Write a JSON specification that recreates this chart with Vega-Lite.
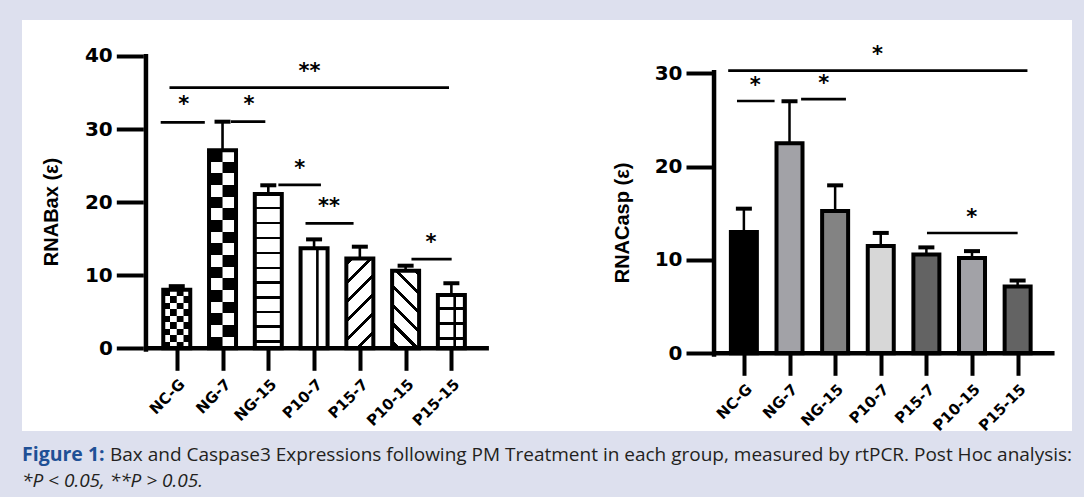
{
  "$schema": "https://vega.github.io/schema/vega-lite/v6.json",
  "background": "#dde0ee",
  "padding": {"left": 22, "top": 20, "right": 12, "bottom": 0},
  "autosize": {"type": "pad"},
  "spacing": 0,
  "config": {"view": {"stroke": null}},
  "datasets": {
    "bax": [
      {"group": "NC-G", "pos": 1, "value": 8.0, "upper": 8.5},
      {"group": "NG-7", "pos": 2, "value": 27.1, "upper": 31.0},
      {"group": "NG-15", "pos": 3, "value": 21.1, "upper": 22.3},
      {"group": "P10-7", "pos": 4, "value": 13.7, "upper": 14.9},
      {"group": "P15-7", "pos": 5, "value": 12.3, "upper": 13.9},
      {"group": "P10-15", "pos": 6, "value": 10.6, "upper": 11.3},
      {"group": "P15-15", "pos": 7, "value": 7.3, "upper": 8.9}
    ],
    "casp": [
      {"group": "NC-G", "pos": 1, "value": 13.0, "upper": 15.5},
      {"group": "NG-7", "pos": 2, "value": 22.5, "upper": 27.0},
      {"group": "NG-15", "pos": 3, "value": 15.25, "upper": 18.0},
      {"group": "P10-7", "pos": 4, "value": 11.5, "upper": 12.9},
      {"group": "P15-7", "pos": 5, "value": 10.6, "upper": 11.35},
      {"group": "P10-15", "pos": 6, "value": 10.2, "upper": 10.95},
      {"group": "P15-15", "pos": 7, "value": 7.15, "upper": 7.8}
    ],
    "baxSig": [
      {"from": 0.841, "to": 6.948, "level": 35.65, "stars": "**", "at": 3.9, "labelLevel": 38.6},
      {"from": 0.649, "to": 1.613, "level": 30.9, "stars": "*", "at": 1.15, "labelLevel": 34.0},
      {"from": 2.185, "to": 2.935, "level": 31.0, "stars": "*", "at": 2.577, "labelLevel": 34.0},
      {"from": 3.22, "to": 4.15, "level": 22.35, "stars": "*", "at": 3.685, "labelLevel": 25.3},
      {"from": 3.813, "to": 4.863, "level": 17.1, "stars": "**", "at": 4.328, "labelLevel": 20.05},
      {"from": 6.128, "to": 7.006, "level": 12.2, "stars": "*", "at": 6.556, "labelLevel": 15.2}
    ],
    "caspSig": [
      {"from": 0.656, "to": 7.215, "level": 30.29, "stars": "*", "at": 3.93, "labelLevel": 32.58},
      {"from": 0.849, "to": 1.673, "level": 27.04, "stars": "*", "at": 1.25, "labelLevel": 29.2},
      {"from": 2.254, "to": 3.237, "level": 27.25, "stars": "*", "at": 2.748, "labelLevel": 29.47},
      {"from": 5.013, "to": 7.0, "level": 12.89, "stars": "*", "at": 5.996, "labelLevel": 15.1}
    ],
    "caption": [
      {"line": 1, "part": "head", "text": "Figure 1:"},
      {"line": 1, "part": "body", "text": "Bax and Caspase3 Expressions following PM Treatment in each group, measured by rtPCR. Post Hoc analysis:"},
      {"line": 2, "part": "note", "text": "*P < 0.05, **P > 0.05."}
    ]
  },
  "vconcat": [
    {
      "hconcat": [
        {
          "width": 518,
          "height": 411,
          "view": {"fill": "white", "stroke": null},
          "layer": [
            {
              "data": {"name": "bax"},
              "transform": [{"filter": "datum.group === 'NC-G'"}],
              "mark": {"type": "bar", "size": 27, "fill": {"gradient": "linear", "x1": 0, "y1": 0, "x2": 0, "y2": 1, "stops": [
                {"offset": 0, "color": "black"}, {"offset": 0.1111, "color": "black"}, {"offset": 0.1111, "color": "white"}, {"offset": 0.2222, "color": "white"},
                {"offset": 0.2222, "color": "black"}, {"offset": 0.3333, "color": "black"}, {"offset": 0.3333, "color": "white"}, {"offset": 0.4444, "color": "white"},
                {"offset": 0.4444, "color": "black"}, {"offset": 0.5556, "color": "black"}, {"offset": 0.5556, "color": "white"}, {"offset": 0.6667, "color": "white"},
                {"offset": 0.6667, "color": "black"}, {"offset": 0.7778, "color": "black"}, {"offset": 0.7778, "color": "white"}, {"offset": 0.8889, "color": "white"},
                {"offset": 0.8889, "color": "black"}, {"offset": 1, "color": "black"}]}},
              "encoding": {
                "x": {"field": "pos", "type": "quantitative", "scale": {"domain": [-2.272, 8.827], "nice": false, "zero": false},
                  "axis": {"values": [1, 2, 3, 4, 5, 6, 7], "labelExpr": "['NC-G','NG-7','NG-15','P10-7','P15-7','P10-15','P15-15'][datum.value - 1]",
                    "labelAngle": -45, "labelAlign": "right", "labelBaseline": "top", "labelPadding": 6, "labelFont": "DejaVu Sans", "labelFontWeight": "bold",
                    "labelFontSize": 15, "labelColor": "black", "labelFlush": false, "labelOverlap": false, "labelBound": false, "domain": false, "grid": false,
                    "ticks": true, "tickSize": 22, "tickWidth": 4, "tickColor": "black", "offset": -82.7, "title": null, "zindex": 1}},
                "y": {"field": "value", "type": "quantitative", "scale": {"domain": [-11.313, 44.911], "nice": false, "zero": false},
                  "axis": {"values": [0, 10, 20, 30, 40], "format": "d", "labelFont": "DejaVu Sans", "labelFontWeight": "bold", "labelFontSize": 20,
                    "labelColor": "black", "labelPadding": 4, "labelFlush": false, "labelOverlap": false, "labelBound": false, "domain": false, "grid": false,
                    "ticks": true, "tickSize": 27, "tickWidth": 4, "tickColor": "black", "offset": -121.3, "title": "RNABax (ε)", "titleX": -91.6, "titleY": 191.5,
                    "titleAngle": -90, "titleAlign": "center", "titleBaseline": "middle", "titleFont": "Liberation Sans", "titleFontWeight": "bold",
                    "titleFontSize": 20, "titleColor": "black", "zindex": 1}},
                "y2": {"datum": 0}
              }
            },
            {
              "data": {"name": "bax"},
              "transform": [{"filter": "datum.group === 'NC-G'"}],
              "mark": {"type": "bar", "size": 6.75, "xOffset": -3.375, "fill": {"gradient": "linear", "x1": 0, "y1": 0, "x2": 0, "y2": 1, "stops": [
                {"offset": 0, "color": "white"}, {"offset": 0.1111, "color": "white"}, {"offset": 0.1111, "color": "black"}, {"offset": 0.2222, "color": "black"},
                {"offset": 0.2222, "color": "white"}, {"offset": 0.3333, "color": "white"}, {"offset": 0.3333, "color": "black"}, {"offset": 0.4444, "color": "black"},
                {"offset": 0.4444, "color": "white"}, {"offset": 0.5556, "color": "white"}, {"offset": 0.5556, "color": "black"}, {"offset": 0.6667, "color": "black"},
                {"offset": 0.6667, "color": "white"}, {"offset": 0.7778, "color": "white"}, {"offset": 0.7778, "color": "black"}, {"offset": 0.8889, "color": "black"},
                {"offset": 0.8889, "color": "white"}, {"offset": 1, "color": "white"}]}},
              "encoding": {
                "x": {"field": "pos", "type": "quantitative", "scale": {"domain": [-2.272, 8.827], "nice": false, "zero": false}},
                "y": {"field": "value", "type": "quantitative", "scale": {"domain": [-11.313, 44.911], "nice": false, "zero": false}},
                "y2": {"datum": 0}
              }
            },
            {
              "data": {"name": "bax"},
              "transform": [{"filter": "datum.group === 'NC-G'"}],
              "mark": {"type": "bar", "size": 6.75, "xOffset": 10.125, "fill": {"gradient": "linear", "x1": 0, "y1": 0, "x2": 0, "y2": 1, "stops": [
                {"offset": 0, "color": "white"}, {"offset": 0.1111, "color": "white"}, {"offset": 0.1111, "color": "black"}, {"offset": 0.2222, "color": "black"},
                {"offset": 0.2222, "color": "white"}, {"offset": 0.3333, "color": "white"}, {"offset": 0.3333, "color": "black"}, {"offset": 0.4444, "color": "black"},
                {"offset": 0.4444, "color": "white"}, {"offset": 0.5556, "color": "white"}, {"offset": 0.5556, "color": "black"}, {"offset": 0.6667, "color": "black"},
                {"offset": 0.6667, "color": "white"}, {"offset": 0.7778, "color": "white"}, {"offset": 0.7778, "color": "black"}, {"offset": 0.8889, "color": "black"},
                {"offset": 0.8889, "color": "white"}, {"offset": 1, "color": "white"}]}},
              "encoding": {
                "x": {"field": "pos", "type": "quantitative", "scale": {"domain": [-2.272, 8.827], "nice": false, "zero": false}},
                "y": {"field": "value", "type": "quantitative", "scale": {"domain": [-11.313, 44.911], "nice": false, "zero": false}},
                "y2": {"datum": 0}
              }
            },
            {
              "data": {"name": "bax"},
              "transform": [{"filter": "datum.group === 'NG-7'"}],
              "mark": {"type": "bar", "size": 27, "fill": {"gradient": "linear", "x1": 0, "y1": 0, "x2": 0, "y2": 1, "stops": [
                {"offset": 0, "color": "black"}, {"offset": 0.0588, "color": "black"}, {"offset": 0.0588, "color": "white"}, {"offset": 0.1176, "color": "white"},
                {"offset": 0.1176, "color": "black"}, {"offset": 0.1765, "color": "black"}, {"offset": 0.1765, "color": "white"}, {"offset": 0.2353, "color": "white"},
                {"offset": 0.2353, "color": "black"}, {"offset": 0.2941, "color": "black"}, {"offset": 0.2941, "color": "white"}, {"offset": 0.3529, "color": "white"},
                {"offset": 0.3529, "color": "black"}, {"offset": 0.4118, "color": "black"}, {"offset": 0.4118, "color": "white"}, {"offset": 0.4706, "color": "white"},
                {"offset": 0.4706, "color": "black"}, {"offset": 0.5294, "color": "black"}, {"offset": 0.5294, "color": "white"}, {"offset": 0.5882, "color": "white"},
                {"offset": 0.5882, "color": "black"}, {"offset": 0.6471, "color": "black"}, {"offset": 0.6471, "color": "white"}, {"offset": 0.7059, "color": "white"},
                {"offset": 0.7059, "color": "black"}, {"offset": 0.7647, "color": "black"}, {"offset": 0.7647, "color": "white"}, {"offset": 0.8235, "color": "white"},
                {"offset": 0.8235, "color": "black"}, {"offset": 0.8824, "color": "black"}, {"offset": 0.8824, "color": "white"}, {"offset": 0.9412, "color": "white"},
                {"offset": 0.9412, "color": "black"}, {"offset": 1, "color": "black"}]}},
              "encoding": {
                "x": {"field": "pos", "type": "quantitative", "scale": {"domain": [-2.272, 8.827], "nice": false, "zero": false}},
                "y": {"field": "value", "type": "quantitative", "scale": {"domain": [-11.313, 44.911], "nice": false, "zero": false}},
                "y2": {"datum": 0}
              }
            },
            {
              "data": {"name": "bax"},
              "transform": [{"filter": "datum.group === 'NG-7'"}],
              "mark": {"type": "bar", "size": 13.5, "xOffset": 6.75, "fill": {"gradient": "linear", "x1": 0, "y1": 0, "x2": 0, "y2": 1, "stops": [
                {"offset": 0, "color": "white"}, {"offset": 0.0588, "color": "white"}, {"offset": 0.0588, "color": "black"}, {"offset": 0.1176, "color": "black"},
                {"offset": 0.1176, "color": "white"}, {"offset": 0.1765, "color": "white"}, {"offset": 0.1765, "color": "black"}, {"offset": 0.2353, "color": "black"},
                {"offset": 0.2353, "color": "white"}, {"offset": 0.2941, "color": "white"}, {"offset": 0.2941, "color": "black"}, {"offset": 0.3529, "color": "black"},
                {"offset": 0.3529, "color": "white"}, {"offset": 0.4118, "color": "white"}, {"offset": 0.4118, "color": "black"}, {"offset": 0.4706, "color": "black"},
                {"offset": 0.4706, "color": "white"}, {"offset": 0.5294, "color": "white"}, {"offset": 0.5294, "color": "black"}, {"offset": 0.5882, "color": "black"},
                {"offset": 0.5882, "color": "white"}, {"offset": 0.6471, "color": "white"}, {"offset": 0.6471, "color": "black"}, {"offset": 0.7059, "color": "black"},
                {"offset": 0.7059, "color": "white"}, {"offset": 0.7647, "color": "white"}, {"offset": 0.7647, "color": "black"}, {"offset": 0.8235, "color": "black"},
                {"offset": 0.8235, "color": "white"}, {"offset": 0.8824, "color": "white"}, {"offset": 0.8824, "color": "black"}, {"offset": 0.9412, "color": "black"},
                {"offset": 0.9412, "color": "white"}, {"offset": 1, "color": "white"}]}},
              "encoding": {
                "x": {"field": "pos", "type": "quantitative", "scale": {"domain": [-2.272, 8.827], "nice": false, "zero": false}},
                "y": {"field": "value", "type": "quantitative", "scale": {"domain": [-11.313, 44.911], "nice": false, "zero": false}},
                "y2": {"datum": 0}
              }
            },
            {
              "data": {"name": "bax"},
              "transform": [{"filter": "datum.group === 'NG-15'"}],
              "mark": {"type": "bar", "size": 27, "fill": {"gradient": "linear", "x1": 0, "y1": 0, "x2": 0, "y2": 1, "stops": [
                {"offset": 0, "color": "white"}, {"offset": 0.0843, "color": "white"}, {"offset": 0.0843, "color": "black"}, {"offset": 0.0999, "color": "black"},
                {"offset": 0.0999, "color": "white"}, {"offset": 0.1816, "color": "white"}, {"offset": 0.1816, "color": "black"}, {"offset": 0.1972, "color": "black"},
                {"offset": 0.1972, "color": "white"}, {"offset": 0.2788, "color": "white"}, {"offset": 0.2788, "color": "black"}, {"offset": 0.2944, "color": "black"},
                {"offset": 0.2944, "color": "white"}, {"offset": 0.3761, "color": "white"}, {"offset": 0.3761, "color": "black"}, {"offset": 0.3917, "color": "black"},
                {"offset": 0.3917, "color": "white"}, {"offset": 0.4734, "color": "white"}, {"offset": 0.4734, "color": "black"}, {"offset": 0.489, "color": "black"},
                {"offset": 0.489, "color": "white"}, {"offset": 0.5668, "color": "white"}, {"offset": 0.5668, "color": "black"}, {"offset": 0.5824, "color": "black"},
                {"offset": 0.5824, "color": "white"}, {"offset": 0.6641, "color": "white"}, {"offset": 0.6641, "color": "black"}, {"offset": 0.6797, "color": "black"},
                {"offset": 0.6797, "color": "white"}, {"offset": 0.7587, "color": "white"}, {"offset": 0.7587, "color": "black"}, {"offset": 0.7743, "color": "black"},
                {"offset": 0.7743, "color": "white"}, {"offset": 0.8521, "color": "white"}, {"offset": 0.8521, "color": "black"}, {"offset": 0.8677, "color": "black"},
                {"offset": 0.8677, "color": "white"}, {"offset": 0.9494, "color": "white"}, {"offset": 0.9494, "color": "black"}, {"offset": 0.965, "color": "black"},
                {"offset": 0.965, "color": "white"}, {"offset": 1, "color": "white"}]}},
              "encoding": {
                "x": {"field": "pos", "type": "quantitative", "scale": {"domain": [-2.272, 8.827], "nice": false, "zero": false}},
                "y": {"field": "value", "type": "quantitative", "scale": {"domain": [-11.313, 44.911], "nice": false, "zero": false}},
                "y2": {"datum": 0}
              }
            },
            {
              "data": {"name": "bax"},
              "transform": [{"filter": "datum.group === 'P10-7'"}],
              "mark": {"type": "bar", "size": 27, "fill": "white"},
              "encoding": {
                "x": {"field": "pos", "type": "quantitative", "scale": {"domain": [-2.272, 8.827], "nice": false, "zero": false}},
                "y": {"field": "value", "type": "quantitative", "scale": {"domain": [-11.313, 44.911], "nice": false, "zero": false}},
                "y2": {"datum": 0}
              }
            },
            {
              "data": {"name": "bax"},
              "transform": [{"filter": "datum.group === 'P15-7'"}],
              "mark": {"type": "bar", "size": 27, "fill": {"gradient": "linear", "x1": 0, "y1": 0, "x2": 0.3578, "y2": 1.1926, "stops": [
                {"offset": 0, "color": "white"}, {"offset": 0.032, "color": "white"}, {"offset": 0.032, "color": "black"}, {"offset": 0.068, "color": "black"},
                {"offset": 0.068, "color": "white"}, {"offset": 0.194, "color": "white"}, {"offset": 0.194, "color": "black"}, {"offset": 0.23, "color": "black"},
                {"offset": 0.23, "color": "white"}, {"offset": 0.356, "color": "white"}, {"offset": 0.356, "color": "black"}, {"offset": 0.392, "color": "black"},
                {"offset": 0.392, "color": "white"}, {"offset": 0.518, "color": "white"}, {"offset": 0.518, "color": "black"}, {"offset": 0.554, "color": "black"},
                {"offset": 0.554, "color": "white"}, {"offset": 0.68, "color": "white"}, {"offset": 0.68, "color": "black"}, {"offset": 0.716, "color": "black"},
                {"offset": 0.716, "color": "white"}, {"offset": 0.842, "color": "white"}, {"offset": 0.842, "color": "black"}, {"offset": 0.878, "color": "black"},
                {"offset": 0.878, "color": "white"}, {"offset": 1, "color": "white"}]}},
              "encoding": {
                "x": {"field": "pos", "type": "quantitative", "scale": {"domain": [-2.272, 8.827], "nice": false, "zero": false}},
                "y": {"field": "value", "type": "quantitative", "scale": {"domain": [-11.313, 44.911], "nice": false, "zero": false}},
                "y2": {"datum": 0}
              }
            },
            {
              "data": {"name": "bax"},
              "transform": [{"filter": "datum.group === 'P10-15'"}],
              "mark": {"type": "bar", "size": 27, "fill": {"gradient": "linear", "x1": 0, "y1": 1, "x2": 0.419, "y2": -0.2025, "stops": [
                {"offset": 0, "color": "white"}, {"offset": 0.04, "color": "white"}, {"offset": 0.04, "color": "black"}, {"offset": 0.08, "color": "black"},
                {"offset": 0.08, "color": "white"}, {"offset": 0.221, "color": "white"}, {"offset": 0.221, "color": "black"}, {"offset": 0.261, "color": "black"},
                {"offset": 0.261, "color": "white"}, {"offset": 0.402, "color": "white"}, {"offset": 0.402, "color": "black"}, {"offset": 0.442, "color": "black"},
                {"offset": 0.442, "color": "white"}, {"offset": 0.583, "color": "white"}, {"offset": 0.583, "color": "black"}, {"offset": 0.623, "color": "black"},
                {"offset": 0.623, "color": "white"}, {"offset": 0.764, "color": "white"}, {"offset": 0.764, "color": "black"}, {"offset": 0.804, "color": "black"},
                {"offset": 0.804, "color": "white"}, {"offset": 0.945, "color": "white"}, {"offset": 0.945, "color": "black"}, {"offset": 0.985, "color": "black"},
                {"offset": 0.985, "color": "white"}, {"offset": 1, "color": "white"}]}},
              "encoding": {
                "x": {"field": "pos", "type": "quantitative", "scale": {"domain": [-2.272, 8.827], "nice": false, "zero": false}},
                "y": {"field": "value", "type": "quantitative", "scale": {"domain": [-11.313, 44.911], "nice": false, "zero": false}},
                "y2": {"datum": 0}
              }
            },
            {
              "data": {"name": "bax"},
              "transform": [{"filter": "datum.group === 'P15-15'"}],
              "mark": {"type": "bar", "size": 27, "fill": {"gradient": "linear", "x1": 0, "y1": 0, "x2": 0, "y2": 1, "stops": [
                {"offset": 0, "color": "white"}, {"offset": 0.2285, "color": "white"}, {"offset": 0.2285, "color": "black"}, {"offset": 0.2735, "color": "black"},
                {"offset": 0.2735, "color": "white"}, {"offset": 0.5095, "color": "white"}, {"offset": 0.5095, "color": "black"}, {"offset": 0.5545, "color": "black"},
                {"offset": 0.5545, "color": "white"}, {"offset": 0.7902, "color": "white"}, {"offset": 0.7902, "color": "black"}, {"offset": 0.8352, "color": "black"},
                {"offset": 0.8352, "color": "white"}, {"offset": 1, "color": "white"}]}},
              "encoding": {
                "x": {"field": "pos", "type": "quantitative", "scale": {"domain": [-2.272, 8.827], "nice": false, "zero": false}},
                "y": {"field": "value", "type": "quantitative", "scale": {"domain": [-11.313, 44.911], "nice": false, "zero": false}},
                "y2": {"datum": 0}
              }
            },
            {
              "data": {"name": "bax"},
              "transform": [{"filter": "datum.group === 'P10-7' || datum.group === 'P15-15'"}],
              "mark": {"type": "rule", "xOffset": 3.3, "strokeWidth": 2.6, "color": "black"},
              "encoding": {
                "x": {"field": "pos", "type": "quantitative", "scale": {"domain": [-2.272, 8.827], "nice": false, "zero": false}},
                "y": {"field": "value", "type": "quantitative", "scale": {"domain": [-11.313, 44.911], "nice": false, "zero": false}},
                "y2": {"datum": 0}
              }
            },
            {
              "data": {"name": "bax"},
              "mark": {"type": "bar", "size": 27, "fillOpacity": 0, "stroke": "black", "strokeWidth": 4},
              "encoding": {
                "x": {"field": "pos", "type": "quantitative", "scale": {"domain": [-2.272, 8.827], "nice": false, "zero": false}},
                "y": {"field": "value", "type": "quantitative", "scale": {"domain": [-11.313, 44.911], "nice": false, "zero": false}},
                "y2": {"datum": 0}
              }
            },
            {
              "data": {"name": "bax"},
              "mark": {"type": "rule", "strokeWidth": 2.6, "color": "black"},
              "encoding": {
                "x": {"field": "pos", "type": "quantitative", "scale": {"domain": [-2.272, 8.827], "nice": false, "zero": false}},
                "y": {"field": "value", "type": "quantitative", "scale": {"domain": [-11.313, 44.911], "nice": false, "zero": false}},
                "y2": {"field": "upper"}
              }
            },
            {
              "data": {"name": "bax"},
              "mark": {"type": "tick", "orient": "horizontal", "size": 16, "thickness": 4, "color": "black", "opacity": 1},
              "encoding": {
                "x": {"field": "pos", "type": "quantitative", "scale": {"domain": [-2.272, 8.827], "nice": false, "zero": false}},
                "y": {"field": "upper", "type": "quantitative", "scale": {"domain": [-11.313, 44.911], "nice": false, "zero": false}}
              }
            },
            {
              "data": {"name": "baxSig"},
              "mark": {"type": "rule", "strokeWidth": 2.7, "color": "black"},
              "encoding": {
                "x": {"field": "from", "type": "quantitative", "scale": {"domain": [-2.272, 8.827], "nice": false, "zero": false}},
                "x2": {"field": "to"},
                "y": {"field": "level", "type": "quantitative", "scale": {"domain": [-11.313, 44.911], "nice": false, "zero": false}}
              }
            },
            {
              "data": {"name": "baxSig"},
              "mark": {"type": "text", "font": "DejaVu Sans", "fontSize": 21, "fontWeight": "bold", "align": "center", "baseline": "middle", "dy": 5.5, "color": "black"},
              "encoding": {
                "x": {"field": "at", "type": "quantitative", "scale": {"domain": [-2.272, 8.827], "nice": false, "zero": false}},
                "y": {"field": "labelLevel", "type": "quantitative", "scale": {"domain": [-11.313, 44.911], "nice": false, "zero": false}},
                "text": {"field": "stars"}
              }
            },
            {
              "data": {"values": [{}]},
              "mark": {"type": "rule", "strokeWidth": 4.5, "color": "black"},
              "encoding": {
                "x": {"datum": 0.327, "type": "quantitative", "scale": {"domain": [-2.272, 8.827], "nice": false, "zero": false}},
                "y": {"datum": -0.465, "type": "quantitative", "scale": {"domain": [-11.313, 44.911], "nice": false, "zero": false}},
                "y2": {"datum": 40.26}
              }
            },
            {
              "data": {"values": [{}]},
              "mark": {"type": "rule", "strokeWidth": 4.5, "color": "black"},
              "encoding": {
                "x": {"datum": 0.327, "type": "quantitative", "scale": {"domain": [-2.272, 8.827], "nice": false, "zero": false}},
                "x2": {"datum": 7.82},
                "y": {"datum": 0, "type": "quantitative", "scale": {"domain": [-11.313, 44.911], "nice": false, "zero": false}}
              }
            }
          ]
        },
        {
          "width": 532,
          "height": 411,
          "view": {"fill": "white", "stroke": null},
          "layer": [
            {
              "data": {"name": "casp"},
              "mark": {"type": "bar", "size": 26, "stroke": "black", "strokeWidth": 4},
              "encoding": {
                "x": {"field": "pos", "type": "quantitative", "scale": {"domain": [-3.359, 8.082], "nice": false, "zero": false},
                  "axis": {"values": [1, 2, 3, 4, 5, 6, 7], "labelExpr": "['NC-G','NG-7','NG-15','P10-7','P15-7','P10-15','P15-15'][datum.value - 1]",
                    "labelAngle": -45, "labelAlign": "right", "labelBaseline": "top", "labelPadding": 6, "labelFont": "DejaVu Sans", "labelFontWeight": "bold",
                    "labelFontSize": 15, "labelColor": "black", "labelFlush": false, "labelOverlap": false, "labelBound": false, "domain": false, "grid": false,
                    "ticks": true, "tickSize": 22, "tickWidth": 4, "tickColor": "black", "offset": -77.7, "title": null, "zindex": 1}},
                "y": {"field": "value", "type": "quantitative", "scale": {"domain": [-8.328, 35.72], "nice": false, "zero": false},
                  "axis": {"values": [0, 10, 20, 30], "format": "d", "labelFont": "DejaVu Sans", "labelFontWeight": "bold", "labelFontSize": 20,
                    "labelColor": "black", "labelPadding": 4, "labelFlush": false, "labelOverlap": false, "labelBound": false, "domain": false, "grid": false,
                    "ticks": true, "tickSize": 26.3, "tickWidth": 4, "tickColor": "black", "offset": -172.3, "title": "RNACasp (ε)", "titleX": -89.6, "titleY": 202.5,
                    "titleAngle": -90, "titleAlign": "center", "titleBaseline": "middle", "titleFont": "Liberation Sans", "titleFontWeight": "bold",
                    "titleFontSize": 20, "titleColor": "black", "zindex": 1}},
                "y2": {"datum": 0},
                "color": {"field": "group", "type": "nominal", "legend": null,
                  "scale": {"domain": ["NC-G", "NG-7", "NG-15", "P10-7", "P15-7", "P10-15", "P15-15"],
                    "range": ["#000000", "#a2a2a7", "#838383", "#d7d7d7", "#636363", "#a2a2a7", "#636363"]}}
              }
            },
            {
              "data": {"name": "casp"},
              "mark": {"type": "rule", "strokeWidth": 2.5, "color": "black"},
              "encoding": {
                "x": {"field": "pos", "type": "quantitative", "scale": {"domain": [-3.359, 8.082], "nice": false, "zero": false}},
                "y": {"field": "value", "type": "quantitative", "scale": {"domain": [-8.328, 35.72], "nice": false, "zero": false}},
                "y2": {"field": "upper"}
              }
            },
            {
              "data": {"name": "casp"},
              "mark": {"type": "tick", "orient": "horizontal", "size": 16, "thickness": 4, "color": "black", "opacity": 1},
              "encoding": {
                "x": {"field": "pos", "type": "quantitative", "scale": {"domain": [-3.359, 8.082], "nice": false, "zero": false}},
                "y": {"field": "upper", "type": "quantitative", "scale": {"domain": [-8.328, 35.72], "nice": false, "zero": false}}
              }
            },
            {
              "data": {"name": "caspSig"},
              "mark": {"type": "rule", "strokeWidth": 2.7, "color": "black"},
              "encoding": {
                "x": {"field": "from", "type": "quantitative", "scale": {"domain": [-3.359, 8.082], "nice": false, "zero": false}},
                "x2": {"field": "to"},
                "y": {"field": "level", "type": "quantitative", "scale": {"domain": [-8.328, 35.72], "nice": false, "zero": false}}
              }
            },
            {
              "data": {"name": "caspSig"},
              "mark": {"type": "text", "font": "DejaVu Sans", "fontSize": 21, "fontWeight": "bold", "align": "center", "baseline": "middle", "dy": 5.5, "color": "black"},
              "encoding": {
                "x": {"field": "at", "type": "quantitative", "scale": {"domain": [-3.359, 8.082], "nice": false, "zero": false}},
                "y": {"field": "labelLevel", "type": "quantitative", "scale": {"domain": [-8.328, 35.72], "nice": false, "zero": false}},
                "text": {"field": "stars"}
              }
            },
            {
              "data": {"values": [{}]},
              "mark": {"type": "rule", "strokeWidth": 4.5, "color": "black"},
              "encoding": {
                "x": {"datum": 0.346, "type": "quantitative", "scale": {"domain": [-3.359, 8.082], "nice": false, "zero": false}},
                "y": {"datum": -0.36, "type": "quantitative", "scale": {"domain": [-8.328, 35.72], "nice": false, "zero": false}},
                "y2": {"datum": 30.37}
              }
            },
            {
              "data": {"values": [{}]},
              "mark": {"type": "rule", "strokeWidth": 4.5, "color": "black"},
              "encoding": {
                "x": {"datum": 0.346, "type": "quantitative", "scale": {"domain": [-3.359, 8.082], "nice": false, "zero": false}},
                "x2": {"datum": 7.809},
                "y": {"datum": 0, "type": "quantitative", "scale": {"domain": [-8.328, 35.72], "nice": false, "zero": false}}
              }
            }
          ]
        }
      ],
      "spacing": 0
    },
    {
      "width": 1050,
      "height": 66,
      "data": {"name": "caption"},
      "encoding": {
        "y": {"field": "line", "type": "ordinal", "scale": {"type": "point", "padding": 0.769, "align": 0.525}, "axis": null},
        "x": {"datum": 0, "type": "quantitative", "scale": {"domain": [0, 1]}, "axis": null},
        "text": {"field": "text"}
      },
      "layer": [
        {
          "transform": [{"filter": "datum.part === 'head'"}],
          "mark": {"type": "text", "align": "left", "baseline": "middle", "font": "Open Sans", "fontSize": 19.5, "fontWeight": "bold", "color": "#1f5096"}
        },
        {
          "transform": [{"filter": "datum.part === 'body'"}],
          "mark": {"type": "text", "align": "left", "baseline": "middle", "dx": 88, "font": "Open Sans", "fontSize": 19, "color": "#231f20"}
        },
        {
          "transform": [{"filter": "datum.part === 'note'"}],
          "mark": {"type": "text", "align": "left", "baseline": "middle", "font": "Open Sans", "fontSize": 19, "fontStyle": "italic", "color": "#231f20"}
        }
      ]
    }
  ]
}
